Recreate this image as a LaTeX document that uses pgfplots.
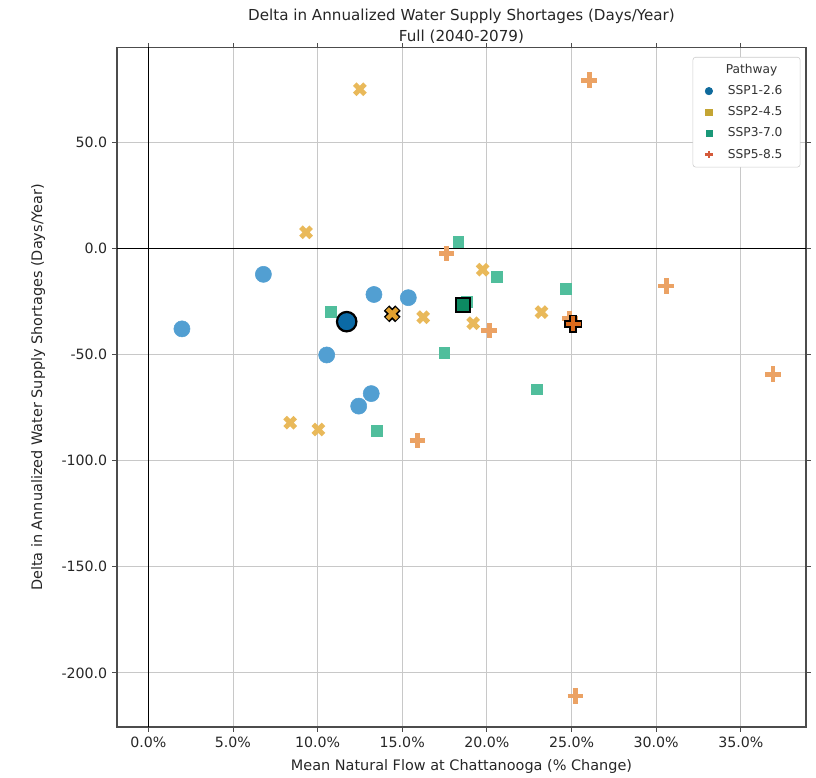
\documentclass[border=0pt]{standalone}
\usepackage{pgfplots}
\pgfplotsset{compat=1.18}
\usepackage{fontspec}
\setmainfont{DejaVu Sans}
\definecolor{bL}{HTML}{529FD2}
\definecolor{bD}{HTML}{0B6AA6}
\definecolor{yL}{HTML}{E9B95A}
\definecolor{yD}{HTML}{E2A12E}
\definecolor{gL}{HTML}{50BE9C}
\definecolor{gD}{HTML}{0C8A62}
\definecolor{oL}{HTML}{EBA264}
\definecolor{oD}{HTML}{DA6A1C}
\definecolor{legB}{HTML}{0F6A9C}
\definecolor{legY}{HTML}{C4A534}
\definecolor{legG}{HTML}{1A9878}
\definecolor{legO}{HTML}{D45A3A}
\definecolor{gridc}{HTML}{C8C8C8}
\begin{document}
\begin{tikzpicture}
\useasboundingbox (-84.2pt,-36.7pt) rectangle (503.3pt,523.4pt);
\begin{axis}[
  scale only axis,
  width=496.1pt, height=488.9pt,
  at={(0,0)}, anchor=south west,
  xmin=-1.85, xmax=38.85, ymin=-225.5, ymax=94.5,
  xtick={0,5,10,15,20,25,30,35},
  xticklabels={0.0\%,5.0\%,10.0\%,15.0\%,20.0\%,25.0\%,30.0\%,35.0\%},
  ytick={-200,-150,-100,-50,0,50},
  yticklabels={-200.0,-150.0,-100.0,-50.0,0.0,50.0},
  tick align=outside, major tick length=3.5pt,
  tick style={color=black!70, line width=0.6pt},
  axis line style={color=black!70, line width=0.8pt},
  grid=major, major grid style={color=gridc, line width=0.6pt},
  tick label style={font=\fontsize{10.2}{12}\selectfont, color=black!85},
  xlabel={Mean Natural Flow at Chattanooga (\% Change)},
  ylabel={Delta in Annualized Water Supply Shortages (Days/Year)},
  label style={font=\fontsize{10.4}{12}\selectfont, color=black!85},
  title={Delta in Annualized Water Supply Shortages (Days/Year)\\Full (2040-2079)},
  title style={align=center, font=\fontsize{10.9}{14.5}\selectfont, color=black!85, yshift=-6pt},
  xlabel style={yshift=-2pt},
  ylabel style={yshift=5pt},
  legend style={at={(rel axis cs:1,1)}, anchor=north east, xshift=-4pt, yshift=-6.5pt,
    font=\fontsize{8.8}{10.5}\selectfont, draw=black!20, rounded corners=2pt,
    row sep=3.2pt, inner sep=3pt, text=black!80},
  legend cell align=left,
]
% zero lines
\addplot[black, line width=1.1pt, forget plot] coordinates {(-5,0) (45,0)};
\addplot[black, line width=1.1pt, forget plot] coordinates {(0,-300) (0,150)};

% SSP1-2.6 individual
\addplot[only marks, mark=*, mark size=5.8pt, color=bL, mark options={draw=bL, fill=bL}, forget plot] coordinates {
(1.99,-37.9) (6.80,-12.2) (10.54,-50.2) (12.43,-74.3) (13.17,-68.4) (13.33,-21.7) (15.36,-23.2)
};
% SSP2-4.5 individual (X)
\addplot[only marks, mark=x, mark size=5.2pt, color=yL, mark options={line width=3.6pt}, forget plot] coordinates {
(12.5,75.0) (9.32,7.6) (16.24,-32.4) (8.38,-82.1) (10.05,-85.3) (19.75,-10.0) (19.19,-35.2) (23.23,-30.0)
};
% SSP3-7.0 individual (squares)
\addplot[only marks, mark=square*, mark size=3.9pt, color=gL, mark options={draw=gL, fill=gL}, forget plot] coordinates {
(10.80,-29.7) (18.31,3.2) (18.8,-25.3) (20.57,-13.4) (24.64,-19.0) (17.48,-49.0) (22.93,-66.4) (13.49,-86.1)
};
% SSP5-8.5 individual (plus)
\addplot[only marks, mark=+, mark size=5.6pt, color=oL, mark options={line width=3.5pt}, forget plot] coordinates {
(17.62,-2.4) (20.14,-38.7) (24.9,-33.0) (30.59,-17.7) (15.89,-90.4) (26.04,79.3) (36.9,-59.2) (25.23,-210.9)
};

% means
\addplot[only marks, mark=*, mark size=7.0pt, mark options={draw=black, fill=bD, line width=1.6pt}, forget plot] coordinates {(11.72,-34.5)};
\addplot[only marks, mark=x, mark size=5.8pt, color=black, mark options={line width=5.6pt}, forget plot] coordinates {(14.41,-30.8)};
\addplot[only marks, mark=x, mark size=5.0pt, color=yD, mark options={line width=3.2pt}, forget plot] coordinates {(14.41,-30.8)};
\addplot[only marks, mark=square*, mark size=5.0pt, mark options={draw=black, fill=gD, line width=1.6pt}, forget plot] coordinates {(18.6,-26.5)};
\addplot[only marks, mark=+, mark size=6.4pt, color=black, mark options={line width=5.6pt}, forget plot] coordinates {(25.09,-35.5)};
\addplot[only marks, mark=+, mark size=5.4pt, color=oD, mark options={line width=3.2pt}, forget plot] coordinates {(25.09,-35.5)};

% legend
\addlegendimage{empty legend}
\addlegendentry{\hspace{-4pt}\makebox[60pt][c]{Pathway}}
\addlegendimage{only marks, mark=*, mark size=2.7pt, color=legB}
\addlegendentry{\hspace{9pt}SSP1-2.6}
\addlegendimage{only marks, mark=square*, mark size=2.4pt, color=legY}
\addlegendentry{\hspace{9pt}SSP2-4.5}
\addlegendimage{only marks, mark=square*, mark size=2.1pt, color=legG}
\addlegendentry{\hspace{9pt}SSP3-7.0}
\addlegendimage{only marks, mark=+, mark size=2.7pt, color=legO, mark options={line width=1.7pt}}
\addlegendentry{\hspace{9pt}SSP5-8.5}
\end{axis}
\end{tikzpicture}
\end{document}
